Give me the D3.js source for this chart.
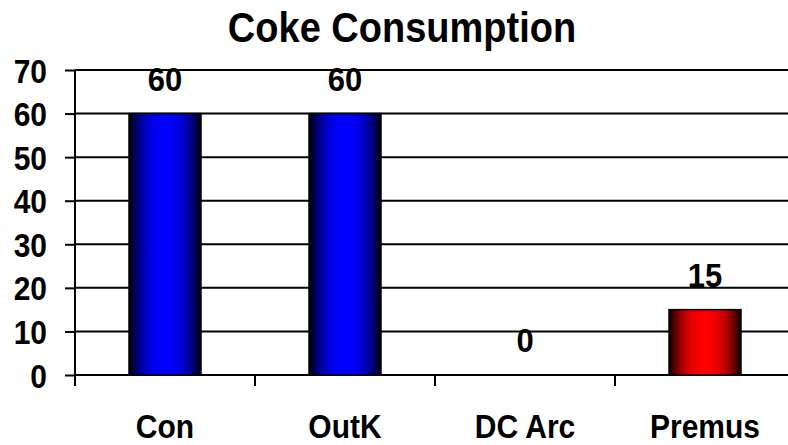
<!DOCTYPE html>
<html><head><meta charset="utf-8">
<script src="https://cdn.jsdelivr.net/npm/d3@7/dist/d3.min.js"></script>
<style>html,body{margin:0;padding:0;background:#fff;}svg{display:block;}</style>
</head><body>
<script>
const title = "Coke Consumption";
const categories = ["Con", "OutK", "DC Arc", "Premus"];
const values = [60, 60, 0, 15];
const barColors = ["blue", "blue", "blue", "red"];
const yTicks = [0, 10, 20, 30, 40, 50, 60, 70];

const W = 788, H = 445;
const svg = d3.select("body").append("svg").attr("width", W).attr("height", H);
const font = "Arial, 'Liberation Sans', sans-serif";
const SY = 1.1;

const defs = svg.append("defs");
const shadeStops = [[0, 0.02], [0.08, 0.35], [0.18, 0.65], [0.3, 0.88], [0.42, 0.98], [0.5, 1]];
function grad(id, c) {
  const g = defs.append("linearGradient").attr("id", id).attr("x1", "0%").attr("x2", "100%").attr("y1", "0%").attr("y2", "0%");
  const col = k => c === "red" ? d3.rgb(255 * k, 0, 0) : d3.rgb(0, 0, 255 * k);
  const all = shadeStops.concat(shadeStops.slice(0, -1).reverse().map(([o, k]) => [1 - o, k]));
  all.forEach(([o, k]) => g.append("stop").attr("offset", o).attr("stop-color", col(k)));
}
grad("g-blue", "blue");
grad("g-red", "red");

const x = d3.scaleBand().domain(categories).range([75, 795]).paddingInner(0.6).paddingOuter(0.3);
const y = d3.scaleLinear().domain([0, 70]).range([375, 70]);

function label(txt, px, py, size, anchor) {
  const g = svg.append("g").attr("transform", `translate(${px},${py}) scale(1,${SY})`);
  g.append("text").attr("text-anchor", anchor).attr("font-family", font)
    .attr("font-weight", "bold").attr("font-size", size).attr("fill", "#000").text(txt);
}

// gridlines
svg.append("g").selectAll("line").data(yTicks.filter(d => d > 0)).join("line")
  .attr("x1", 75).attr("x2", 795).attr("y1", d => y(d)).attr("y2", d => y(d))
  .attr("stroke", "#000").attr("stroke-width", 2);

// y axis
const yAxis = svg.append("g").attr("transform", "translate(75,0)")
  .call(d3.axisLeft(y).tickValues(yTicks).tickSize(10).tickFormat(""));
yAxis.select(".domain").attr("stroke", "#000").attr("stroke-width", 2).attr("d", "M0,70V386");
yAxis.selectAll(".tick line").attr("stroke", "#000").attr("stroke-width", 2);
yTicks.forEach(t => label(String(t), 47, y(t) + 12.5, 30, "end"));

// x axis
const xAxis = svg.append("g").attr("transform", "translate(0,375)")
  .call(d3.axisBottom(x).tickSize(0).tickFormat(""));
xAxis.select(".domain").attr("stroke", "#000").attr("stroke-width", 2).attr("d", "M75,0H795");
const step = x.step();
const bounds = categories.map((c, i) => 75 + i * step);
svg.append("g").selectAll("line").data(bounds).join("line")
  .attr("x1", d => d).attr("x2", d => d).attr("y1", 375).attr("y2", 386)
  .attr("stroke", "#000").attr("stroke-width", 2);

// bars
svg.append("g").selectAll("rect").data(values).join("rect")
  .attr("x", (d, i) => x(categories[i]))
  .attr("y", d => y(d))
  .attr("width", x.bandwidth())
  .attr("height", d => y(0) - y(d))
  .attr("fill", (d, i) => `url(#g-${barColors[i]})`)
  .attr("stroke", "#000").attr("stroke-width", 1.5);

// value labels
values.forEach((v, i) => label(String(v), x(categories[i]) + x.bandwidth() / 2, y(v) - 23, 31, "middle"));

// category labels
categories.forEach(c => label(c, x(c) + x.bandwidth() / 2, 438, 30, "middle"));

// title
label(title, 402, 42, 38, "middle");
</script>
</body></html>
